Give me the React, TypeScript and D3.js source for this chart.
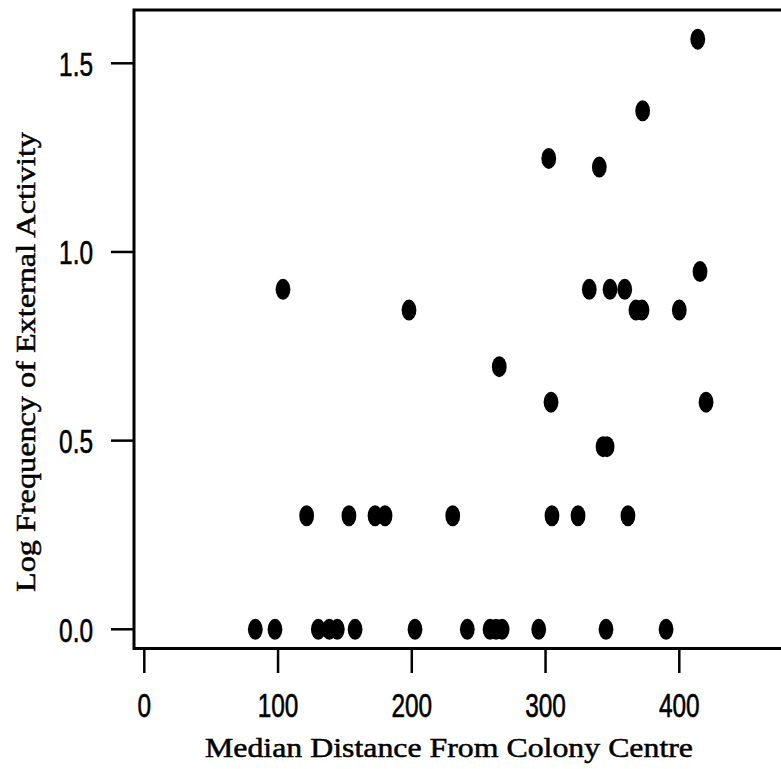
import React from "react";
import * as d3 from "d3";

// Data: [median distance, log frequency]
const distances = [
  83.0, 97.7, 130.1, 138.3, 144.3, 157.6, 202.4, 241.5, 258.5, 263, 267.5, 294.9, 345.2, 390.1,
  121.4, 153, 172.5, 180, 230.6, 304.8, 324.3, 361.6,
  343, 346,
  304.1, 420.0,
  265.4,
  197.9, 367.6, 372.1, 400,
  103.7, 332.7, 348.2, 359.2,
  415.5,
  340.2,
  302.4,
  372.6,
  413.8,
];
const logFreqs = [
  0, 0, 0, 0, 0, 0, 0, 0, 0, 0, 0, 0, 0, 0,
  0.301, 0.301, 0.301, 0.301, 0.301, 0.301, 0.301, 0.301,
  0.484, 0.484,
  0.602, 0.602,
  0.696,
  0.846, 0.846, 0.846, 0.846,
  0.901, 0.901, 0.901, 0.901,
  0.948,
  1.225,
  1.248,
  1.374,
  1.564,
];
const xTicks = [0, 100, 200, 300, 400];
const yTicks = [0, 0.5, 1.0, 1.5];
const xLabel = "Median Distance From Colony Centre";
const yLabel = "Log Frequency of External Activity";

export default function App() {
  const W = 781, H = 769;
  const x = d3.scaleLinear().domain([0, 400]).range([144.3, 679.3]);
  const y = d3.scaleLinear().domain([0, 1.5]).range([629.3, 63.3]);
  const left = 134, top = 10, bottom = 648.5;
  const tickFont = "'Liberation Sans', Arial, sans-serif";
  const serif = "'Liberation Serif', 'Times New Roman', serif";
  const sx = 0.74;
  return (
    <svg width={W} height={H} style={{ position: "absolute", left: 0, top: 0, background: "#fff" }}>
      <rect x={0} y={0} width={W} height={H} fill="#fff" />
      {/* frame */}
      <rect x={left} y={top} width={W + 20 - left} height={bottom - top} fill="none" stroke="#000" strokeWidth={3} />
      {/* x ticks */}
      {xTicks.map((t) => (
        <g key={"x" + t}>
          <line x1={x(t)} x2={x(t)} y1={bottom} y2={673} stroke="#000" strokeWidth={2.5} />
          <text
            transform={`translate(${x(t)},717) scale(${sx},1)`}
            textAnchor="middle"
            fontFamily={tickFont}
            fontSize={33}
            fill="#000"
            stroke="#000"
            strokeWidth={0.6}
          >
            {t}
          </text>
        </g>
      ))}
      {/* y ticks */}
      {yTicks.map((t) => (
        <g key={"y" + t}>
          <line x1={left} x2={111} y1={y(t)} y2={y(t)} stroke="#000" strokeWidth={2.5} />
          <text
            transform={`translate(93,${y(t) + 12.5}) scale(${sx},1)`}
            textAnchor="end"
            fontFamily={tickFont}
            fontSize={33}
            fill="#000"
            stroke="#000"
            strokeWidth={0.6}
          >
            {t.toFixed(1)}
          </text>
        </g>
      ))}
      {/* points */}
      {distances.map((d, i) => (
        <ellipse key={i} cx={x(d)} cy={y(logFreqs[i])} rx={7.4} ry={10.5} fill="#000" />
      ))}
      {/* axis labels */}
      <text
        x={449}
        y={757}
        textAnchor="middle"
        fontFamily={serif}
        fontSize={27}
        textLength={488}
        lengthAdjust="spacingAndGlyphs"
        fill="#000"
        stroke="#000"
        strokeWidth={0.5}
      >
        {xLabel}
      </text>
      <text
        transform={`translate(35,362) rotate(-90)`}
        textAnchor="middle"
        fontFamily={serif}
        fontSize={27}
        textLength={460}
        lengthAdjust="spacingAndGlyphs"
        fill="#000"
        stroke="#000"
        strokeWidth={0.5}
      >
        {yLabel}
      </text>
    </svg>
  );
}
